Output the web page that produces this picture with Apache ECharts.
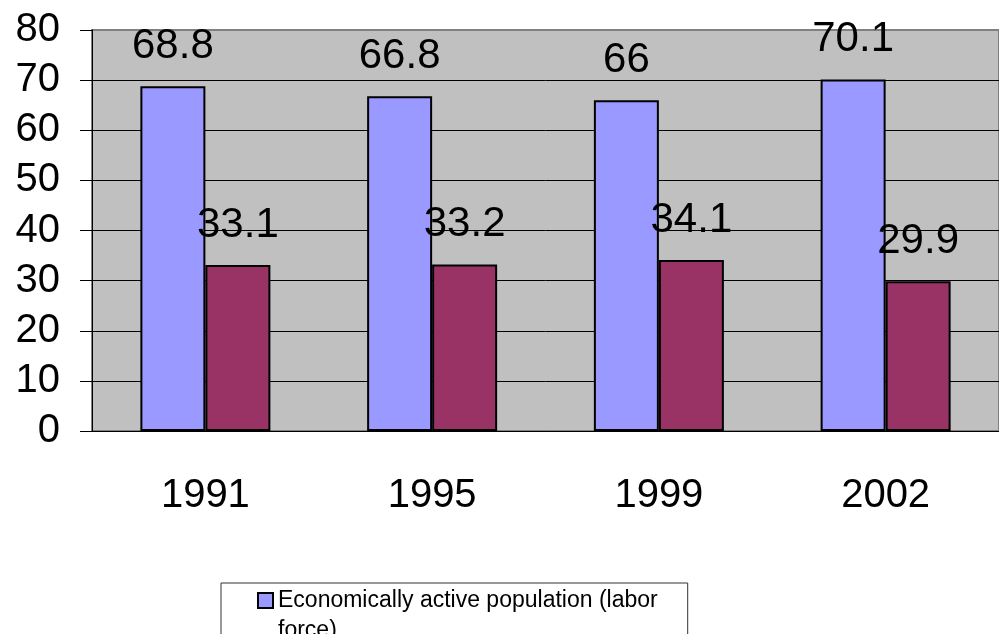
<!DOCTYPE html>
<html>
<head>
<meta charset="utf-8">
<title>Economically active population</title>
<script src="https://cdn.jsdelivr.net/npm/echarts@6/dist/echarts.min.js"></script>
<style>
  html, body { margin: 0; padding: 0; background: #fff; }
  #chart { width: 999px; height: 634px; }
</style>
</head>
<body>
<div id="chart"></div>
<script>
// data
const years = ['1991', '1995', '1999', '2002']
const activeValues = [68.8, 66.8, 66, 70.1]
const inactiveValues = [33.1, 33.2, 34.1, 29.9]
const seriesNames = ['Economically active population (labor force)', 'Economically inactive population']

// colours
const activeColor = '#9999FF'
const inactiveColor = '#993366'
const fontFamily = "'Liberation Sans', Arial, sans-serif"

// legend text wraps like the original; the empty first line keeps the
// icon level with the first text line (legend text is always centred)
function wrapLegend(name) {
  return name === seriesNames[0] ? '\nEconomically active population (labor\nforce)' : name
}

const chart = echarts.init(document.getElementById('chart'))

const barLabel = {
  show: true,
  position: 'top',
  distance: 19,
  color: '#000',
  fontSize: 42,
  fontFamily: fontFamily
}

const option = {
  animation: false,
  backgroundColor: '#fff',
  grid: {
    left: 92,
    top: 30,
    width: 920,
    height: 401,
    show: true,
    backgroundColor: '#C0C0C0',
    borderColor: '#808080',
    borderWidth: 2
  },
  legend: {
    orient: 'vertical',
    left: 221,
    top: 583,
    height: 300,
    padding: [-27.5, 30, 10, 36],
    borderColor: '#333',
    borderWidth: 1,
    itemWidth: 15,
    itemHeight: 15,
    itemGap: 10,
    icon: 'rect',
    formatter: wrapLegend,
    itemStyle: { borderColor: '#000', borderWidth: 2 },
    textStyle: {
      color: '#000',
      fontSize: 23,
      lineHeight: 30,
      fontFamily: fontFamily
    },
    data: seriesNames
  },
  xAxis: {
    type: 'category',
    data: years,
    axisLine: { lineStyle: { color: '#000', width: 1 } },
    axisTick: { length: 12, lineStyle: { color: '#000' } },
    axisLabel: { color: '#000', fontSize: 40, fontFamily: fontFamily, margin: 45 },
    splitLine: { show: false }
  },
  yAxis: {
    type: 'value',
    min: 0,
    max: 80,
    interval: 10,
    axisLine: { show: true, lineStyle: { color: '#000', width: 1 } },
    axisTick: { show: true, length: 12, lineStyle: { color: '#000' } },
    axisLabel: { color: '#000', fontSize: 40, fontFamily: fontFamily, margin: 32 },
    splitLine: { show: true, showMaxLine: false, lineStyle: { color: '#000', width: 1 } }
  },
  series: [
    {
      name: seriesNames[0],
      type: 'bar',
      data: activeValues,
      barWidth: 65,
      barGap: 0,
      itemStyle: { color: activeColor, borderColor: '#000', borderWidth: 2 },
      label: barLabel
    },
    {
      name: seriesNames[1],
      type: 'bar',
      data: inactiveValues,
      barWidth: 65,
      barGap: 0,
      itemStyle: { color: inactiveColor, borderColor: '#000', borderWidth: 2 },
      label: barLabel
    }
  ]
}

chart.setOption(option)
</script>
</body>
</html>
